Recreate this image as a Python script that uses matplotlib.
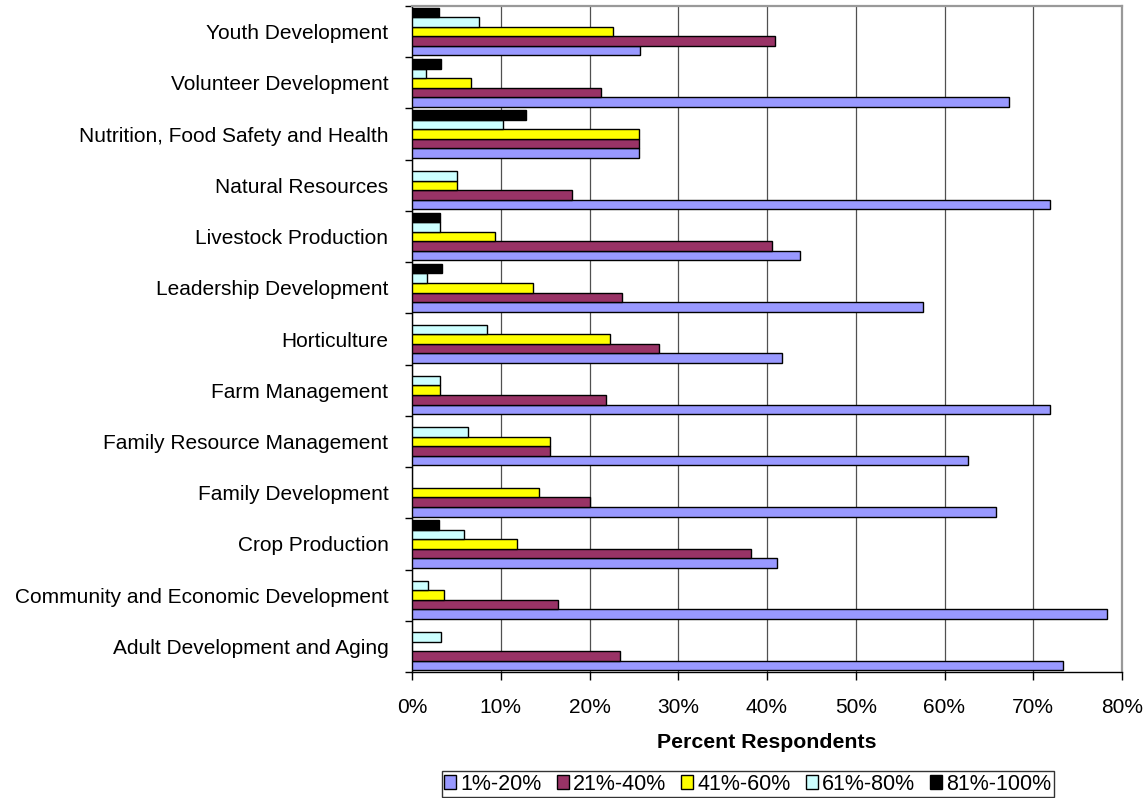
import numpy as np
import matplotlib
matplotlib.use("Agg")
import matplotlib.pyplot as plt
from matplotlib.ticker import FuncFormatter, MultipleLocator, FixedLocator

plt.rcParams['font.family'] = ['Liberation Sans', 'DejaVu Sans']

# Program areas, listed top to bottom
categories = [
    "Youth Development",
    "Volunteer Development",
    "Nutrition, Food Safety and Health",
    "Natural Resources",
    "Livestock Production",
    "Leadership Development",
    "Horticulture",
    "Farm Management",
    "Family Resource Management",
    "Family Development",
    "Crop Production",
    "Community and Economic Development",
    "Adult Development and Aging",
]

series_labels = ["1%-20%", "21%-40%", "41%-60%", "61%-80%", "81%-100%"]

# Percent of respondents per time-share bracket
pct_1_20 = [25.7, 67.3, 25.6, 71.9, 43.7, 57.6, 41.7, 71.9, 62.6, 65.8, 41.1, 78.3, 73.4]
pct_21_40 = [40.9, 21.3, 25.6, 18.0, 40.6, 23.7, 27.8, 21.9, 15.6, 20.0, 38.2, 16.4, 23.4]
pct_41_60 = [22.7, 6.6, 25.6, 5.1, 9.4, 13.6, 22.3, 3.1, 15.6, 14.3, 11.8, 3.6, 0.0]
pct_61_80 = [7.6, 1.6, 10.3, 5.1, 3.1, 1.7, 8.4, 3.1, 6.3, 0.0, 5.9, 1.8, 3.3]
pct_81_100 = [3.0, 3.3, 12.9, 0.0, 3.1, 3.4, 0.0, 0.0, 0.0, 0.0, 3.0, 0.0, 0.0]

series_values = [pct_1_20, pct_21_40, pct_41_60, pct_61_80, pct_81_100]
colors = ["#9999FF", "#993366", "#FFFF00", "#CCFFFF", "#000000"]

W, H = 1148, 798
fig = plt.figure(figsize=(W / 100, H / 100), dpi=100)
ax = fig.add_axes([412 / W, 1 - 672 / H, (1122 - 412) / W, (672 - 6) / H])

y = np.arange(len(categories))
h = 0.186
handles = []
for s, (vals, col, lab) in enumerate(zip(series_values, colors, series_labels)):
    # with the y axis inverted, the first series sits lowest in each group
    offs = (2 - s) * h
    vals = np.asarray(vals, dtype=float)
    bars = ax.barh(y + offs, vals, height=h, color=col, edgecolor="black",
                   linewidth=1.0, label=lab, zorder=3)
    # hide empty bars entirely
    for b, v in zip(bars, vals):
        if v <= 0:
            b.set_visible(False)
    handles.append(bars)

ax.set_ylim(len(categories) - 0.5, -0.5)
ax.set_xlim(0, 80)

# x axis: percent ticks and vertical gridlines
ax.xaxis.set_major_locator(MultipleLocator(10))
ax.xaxis.set_major_formatter(FuncFormatter(lambda v, p: f"{v:.0f}%"))
ax.tick_params(axis="x", direction="out", length=6, width=1, pad=13,
               labelsize=15, colors="black")
ax.grid(axis="x", color="#505050", linewidth=0.9, zorder=0)

# y axis: category labels centred, tick marks on the boundaries
ax.set_yticks(y)
ax.set_yticklabels(categories)
ax.yaxis.set_minor_locator(FixedLocator(np.arange(-0.5, len(categories), 1.0)))
ax.tick_params(axis="y", which="major", length=0, pad=17, labelsize=15)
ax.tick_params(axis="y", which="minor", direction="out", length=5, width=1)

for side in ("left", "bottom"):
    ax.spines[side].set_color("black")
    ax.spines[side].set_linewidth(1.0)
for side in ("top", "right"):
    ax.spines[side].set_color("#999999")
    ax.spines[side].set_linewidth(1.6)

fig.text(767 / W, 1 - 743 / H, "Percent Respondents", ha="center", va="center",
         fontsize=15.3, fontweight="bold")

leg = fig.legend(handles, series_labels, loc="center", ncol=5,
                 bbox_to_anchor=(748 / W, 1 - 784 / H), frameon=True,
                 fancybox=False, edgecolor="black", fontsize=15.5,
                 handlelength=0.55, handleheight=0.6, handletextpad=0.2,
                 columnspacing=0.7, borderpad=0.12, borderaxespad=0)
leg.get_frame().set_linewidth(1.0)

fig.savefig("out.png", dpi=100, facecolor="white")
